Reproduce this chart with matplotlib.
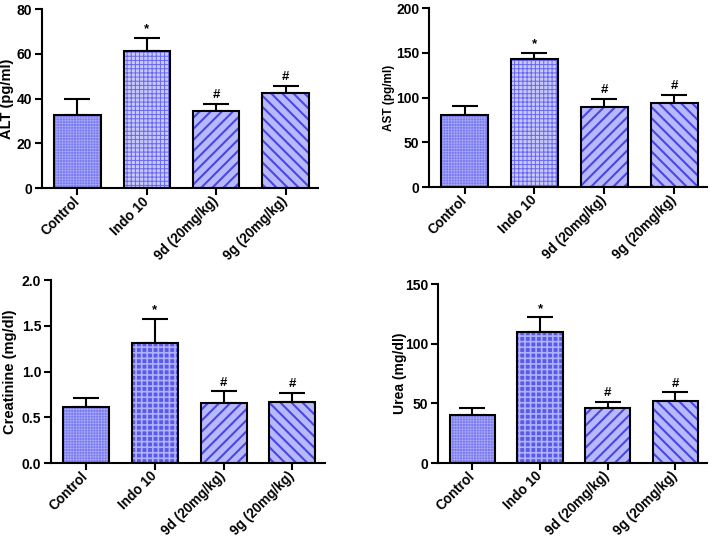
import matplotlib
matplotlib.use("Agg")
import matplotlib.pyplot as plt
import numpy as np

plt.rcParams['font.family'] = ['Liberation Sans', 'DejaVu Sans']
plt.rcParams['font.weight'] = 'bold'

groups = ["Control", "Indo 10", "9d (20mg/kg)", "9g (20mg/kg)"]

alt_mean = [32.5, 61.5, 34.3, 42.5]
alt_sem = [7.4, 5.6, 3.2, 3.1]
ast_mean = [80.8, 143.4, 89.4, 93.9]
ast_sem = [10.1, 6.3, 8.9, 9.3]
cre_mean = [0.607, 1.316, 0.655, 0.665]
cre_sem = [0.10, 0.255, 0.127, 0.10]
urea_mean = [40.6, 109.9, 46.2, 51.8]
urea_sem = [5.9, 12.1, 5.1, 7.3]
marks = ["", "*", "#", "#"]

fig = plt.figure(figsize=(7.12, 5.39), dpi=100)

panels = [
    dict(rect=[0.059, 0.651, 0.388, 0.332], mean=alt_mean, sem=alt_sem, ylim=(0, 80),
         ticks=[0, 20, 40, 60, 80], fmt="{:.0f}", ylabel="ALT (pg/ml)", lsize=10.5,
         lx=-0.10, indo="grid"),
    dict(rect=[0.6025, 0.653, 0.3905, 0.332], mean=ast_mean, sem=ast_sem, ylim=(0, 200),
         ticks=[0, 50, 100, 150, 200], fmt="{:.0f}", ylabel="AST (pg/ml)", lsize=8.5,
         lx=-0.122, indo="grid"),
    dict(rect=[0.0716, 0.141, 0.3844, 0.3395], mean=cre_mean, sem=cre_sem, ylim=(0, 2.0),
         ticks=[0, 0.5, 1.0, 1.5, 2.0], fmt="{:.1f}", ylabel="Creatinine (mg/dl)", lsize=10.5,
         lx=-0.124, indo="check"),
    dict(rect=[0.615, 0.141, 0.378, 0.332], mean=urea_mean, sem=urea_sem, ylim=(0, 150),
         ticks=[0, 50, 100, 150], fmt="{:.0f}", ylabel="Urea (mg/dl)", lsize=10,
         lx=-0.115, indo="check"),
]

def styles(indo):
    ctrl = dict(face="#7a7aef", hatch="++++++", hc="#a8a8fa", hlw=0.5)
    if indo == "grid":
        ind = dict(face="#c8c8fd", hatch="++++", hc="#6666ee", hlw=0.7)
    else:
        ind = dict(face="#5a5ae8", hatch="+++", hc="#b0b0fc", hlw=1.2)
    d9 = dict(face="#b8b8ff", hatch="///", hc="#4848e0", hlw=1.5)
    g9 = dict(face="#b8b8ff", hatch="\\\\\\", hc="#4848e0", hlw=1.5)
    return [ctrl, ind, d9, g9]

x = np.arange(len(groups))
w = 0.67
for p in panels:
    ax = fig.add_axes(p["rect"])
    st = styles(p["indo"])
    for i in range(len(groups)):
        s = st[i]
        with plt.rc_context({'hatch.linewidth': s["hlw"]}):
            b = ax.bar(x[i], p["mean"][i], width=w, color=s["face"], edgecolor=s["hc"],
                       linewidth=0, hatch=s["hatch"], zorder=2)
            for r in b:
                if hasattr(r, "set_hatch_linewidth"):
                    r.set_hatch_linewidth(s["hlw"])
    ax.bar(x, p["mean"], width=w, fill=False, edgecolor="black", linewidth=1.5, zorder=3)
    ax.errorbar(x, p["mean"], yerr=[np.zeros(len(x)), p["sem"]], fmt="none", ecolor="black",
                elinewidth=1.5, capsize=9.5, capthick=1.5, zorder=1)
    for i in range(len(groups)):
        if marks[i]:
            ax.annotate(marks[i], (x[i], p["mean"][i] + p["sem"][i]), xytext=(0, 2),
                        textcoords="offset points", ha="center", va="bottom",
                        fontsize=9.5, fontweight="bold")
    ax.set_xlim(-0.51, 3.47)
    ax.set_ylim(*p["ylim"])
    ax.set_yticks(p["ticks"])
    ax.set_yticklabels([p["fmt"].format(t) for t in p["ticks"]], fontsize=10, fontweight="bold")
    ax.set_xticks(x)
    ax.set_xticklabels(groups, rotation=45, ha="right", va="center", rotation_mode="anchor",
                       fontsize=9.8, fontweight="bold")
    ax.set_ylabel(p["ylabel"], fontsize=p["lsize"], fontweight="bold")
    ax.yaxis.set_label_coords(p["lx"], 0.5)
    for sp in ["top", "right"]:
        ax.spines[sp].set_visible(False)
    for sp in ["left", "bottom"]:
        ax.spines[sp].set_linewidth(1.5)
    ax.tick_params(axis="both", direction="out", length=5, width=1.5, pad=2)
    ax.tick_params(axis="x", pad=3)

fig.savefig("out.png", dpi=100)
